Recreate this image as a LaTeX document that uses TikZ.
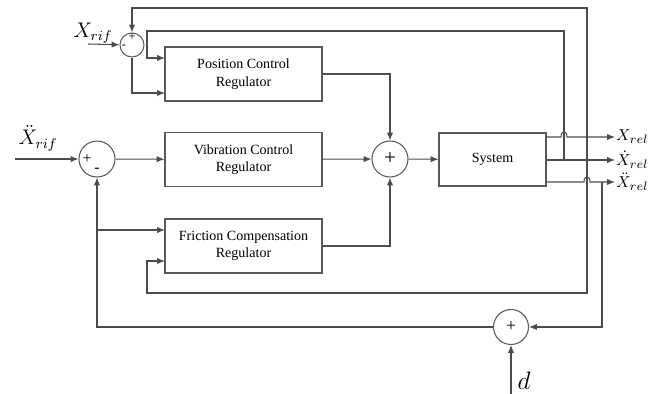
\documentclass[tikz,border=0pt]{standalone}
\usepackage{fontspec}
\setmainfont{Liberation Serif}
\usepackage{amsmath}
\usetikzlibrary{arrows.meta, positioning}

\begin{document}
\begin{tikzpicture}[
  x=0.02cm, y=-0.02cm,
  >={Latex[length=4.5pt,width=3.6pt]},
  block/.style={rectangle, draw=black!65, line width=0.6pt,
                minimum width=3.14cm, minimum height=1.08cm,
                align=center, font=\fontsize{8}{10}\selectfont},
  sum/.style={circle, draw=black!65, line width=0.6pt,
              minimum size=0.72cm, inner sep=0pt},
  arrow/.style={->, draw=black!70, line width=0.6pt},
  sign/.style={inner sep=0pt, font=\fontsize{7}{7}\selectfont},
  outlabel/.style={right, inner sep=0.5pt, font=\fontsize{9.5}{10}\selectfont}
]
  \useasboundingbox (0,0) rectangle (653,394);

  % blocks and summing points
  \node (s1)   [sum, minimum size=0.48cm] at (132,45) {};
  \node (pos)  [block] at (243.5,74) {Position Control\\Regulator};
  \node (s2)   [sum] at (97,159) {};
  \node (vib)  [block] at (243.5,159.5) {Vibration Control\\Regulator};
  \node (fric) [block] at (243.5,246) {Friction Compensation\\Regulator};
  \node (s3)   [sum, font=\large] at (390,159) {+};
  \node (sys)  [block, minimum width=2.14cm, minimum height=1.06cm] at (492.5,159.5) {System};
  \node (s4)   [sum, minimum size=0.7cm, font=\normalsize] at (511,327) {+};

  % signs
  \node [sign] at (132,37) {+};
  \node [sign] at (124,47) {-};
  \node [sign, font=\fontsize{9}{9}\selectfont] at (87,159) {+};
  \node [sign, font=\fontsize{9}{9}\selectfont] at (97,170) {-};

  % inputs, outputs, joints
  \coordinate (xin)  at (88,44);
  \coordinate (ain)  at (15,159);
  \coordinate (din)  at (511,394);
  \coordinate (o1)   at (615,137);
  \coordinate (o2)   at (615,160);
  \coordinate (o3)   at (615,182);
  \coordinate (jx)   at (587,137);
  \coordinate (jv)   at (564,160);
  \coordinate (ja)   at (602,182);
  \coordinate (jb)   at (97,230);
  \coordinate (top)  at (587,8);
  \coordinate (mid)  at (564,31);
  \coordinate (pin1) at (165,58);
  \coordinate (pin2) at (165,93);
  \coordinate (fin1) at (165,230);
  \coordinate (fin2) at (165,261);

  % labels
  \node (lxr) [inner sep=1pt] at (93,33) {\fontsize{12}{12}\selectfont$X_{rif}$};
  \node (lar) [anchor=south, inner sep=1pt] at (38,153) {\fontsize{12}{12}\selectfont$\ddot{X}_{rif}$};
  \node (ld)  [inner sep=1pt] at (524,381) {\fontsize{14}{14}\selectfont$d$};
  \node (l1) [outlabel] at (o1) {$X_{rel}$};
  \node (l2) [outlabel] at (o2) {$\dot{X}_{rel}$};
  \node (l3) [outlabel] at (o3) {$\ddot{X}_{rel}$};

  % forward path
  \draw[arrow] (xin) -- (s1);
  \draw[arrow] (ain) -- (s2);
  \draw[arrow] (s2) -- (vib);
  \draw[arrow] (vib) -- (s3);
  \draw[arrow] (s3) -- (sys);
  \draw[arrow] (pos.east) -| (s3.north);
  \draw[arrow] (fric.east) -| (s3.south);
  \draw[arrow] (s1.south) |- (pin2);

  % outputs
  \draw[arrow] (sys.east |- o1) -- (561,137) .. controls (561,130) and (567,130) .. (567,137) -- (o1);
  \draw[arrow] (sys.east |- o2) -- (o2);
  \draw[arrow] (sys.east |- o3) -- (584,182) .. controls (584,175) and (590,175) .. (590,182) -- (o3);

  % feedback
  \draw[arrow] (jx) -- (top) -| (s1.north);
  \draw[arrow] (jv) -- (mid) -| (147,58) -- (pin1);
  \draw[arrow] (jx) -- (587,293) -| (147,261) -- (fin2);
  \draw[arrow] (ja) |- (s4.east);
  \draw[arrow] (s4.west) -| (s2.south);
  \draw[arrow] (jb) -- (fin1);
  \draw[arrow] (din) -- (s4.south);
\end{tikzpicture}
\end{document}
